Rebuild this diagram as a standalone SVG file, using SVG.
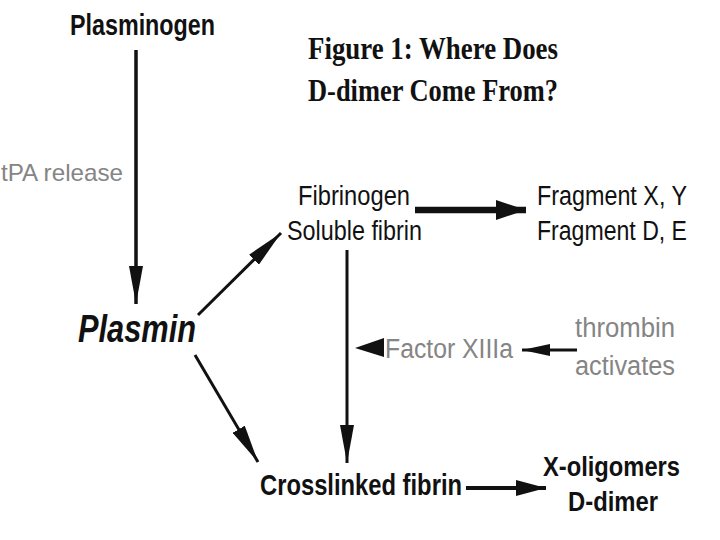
<svg xmlns="http://www.w3.org/2000/svg" width="720" height="540" viewBox="0 0 720 540">
  <style>
    .sans { font-family: "Liberation Sans", Arial, sans-serif; fill: #111; }
    .b { font-weight: bold; }
    .gray { fill: #858585; }
    .title { font-family: "Liberation Serif", "Times New Roman", serif; font-weight: bold; fill: #111; font-size: 32px; }
    .ln { stroke: #111; fill: none; }
  </style>
  <defs>
    <marker id="skinny" markerUnits="userSpaceOnUse" markerWidth="38" markerHeight="14" refX="38" refY="7" orient="auto">
      <path d="M0,0 L38,7 L0,14 Z" fill="#111"/>
    </marker>
    <marker id="fat" markerUnits="userSpaceOnUse" markerWidth="30" markerHeight="20" refX="30" refY="10" orient="auto">
      <path d="M0,0 L30,10 L0,20 Z" fill="#111"/>
    </marker>
    <marker id="mid" markerUnits="userSpaceOnUse" markerWidth="30" markerHeight="16" refX="30" refY="8" orient="auto">
      <path d="M0,0 L30,8 L0,16 Z" fill="#111"/>
    </marker>
    <marker id="small" markerUnits="userSpaceOnUse" markerWidth="28" markerHeight="12" refX="28" refY="6" orient="auto">
      <path d="M0,0 L28,6 L0,12 Z" fill="#111"/>
    </marker>
  </defs>

  <rect width="720" height="540" fill="#ffffff"/>

  <g id="title">
    <text class="title" x="308" y="59" textLength="250" lengthAdjust="spacingAndGlyphs">Figure 1: Where Does</text>
    <text class="title" x="308" y="101" textLength="250" lengthAdjust="spacingAndGlyphs">D-dimer Come From?</text>
  </g>

  <g id="connectors">
    <line class="ln" x1="136" y1="50" x2="136" y2="304" stroke-width="3.5" marker-end="url(#skinny)"/>
    <line class="ln" x1="198" y1="315" x2="281" y2="233" stroke-width="3" marker-end="url(#skinny)"/>
    <line class="ln" x1="195" y1="355" x2="258" y2="462" stroke-width="3" marker-end="url(#skinny)"/>
    <line class="ln" x1="347" y1="250" x2="347" y2="463" stroke-width="3" marker-end="url(#skinny)"/>
    <line class="ln" x1="415" y1="210" x2="526" y2="210" stroke-width="6.5" marker-end="url(#fat)"/>
    <line class="ln" x1="577" y1="350" x2="522" y2="350" stroke-width="3" marker-end="url(#small)"/>
    <line class="ln" x1="466" y1="488" x2="546" y2="488" stroke-width="4" marker-end="url(#mid)"/>
    <polygon points="355,348 384,338 384,357" fill="#111"/>
  </g>

  <g id="plasminogen">
    <text class="sans b" x="70" y="35" font-size="29" textLength="145" lengthAdjust="spacingAndGlyphs">Plasminogen</text>
  </g>
  <g id="tpa-release">
    <text class="sans gray" x="1" y="181" font-size="24" textLength="122" lengthAdjust="spacingAndGlyphs">tPA release</text>
  </g>
  <g id="plasmin">
    <text class="sans b" x="78" y="342" font-size="39" font-style="italic" textLength="118" lengthAdjust="spacingAndGlyphs">Plasmin</text>
  </g>
  <g id="fibrinogen">
    <text class="sans" x="298" y="205" font-size="27" textLength="112" lengthAdjust="spacingAndGlyphs">Fibrinogen</text>
    <text class="sans" x="287" y="240" font-size="27" textLength="135" lengthAdjust="spacingAndGlyphs">Soluble fibrin</text>
  </g>
  <g id="fragments">
    <text class="sans" x="537" y="205" font-size="27" textLength="150" lengthAdjust="spacingAndGlyphs">Fragment X, Y</text>
    <text class="sans" x="537" y="240" font-size="27" textLength="150" lengthAdjust="spacingAndGlyphs">Fragment D, E</text>
  </g>
  <g id="factor-xiiia">
    <text class="sans gray" x="385" y="358" font-size="27" textLength="128" lengthAdjust="spacingAndGlyphs">Factor XIIIa</text>
  </g>
  <g id="thrombin">
    <text class="sans gray" x="575" y="337" font-size="27" textLength="100" lengthAdjust="spacingAndGlyphs">thrombin</text>
    <text class="sans gray" x="575" y="375" font-size="27" textLength="100" lengthAdjust="spacingAndGlyphs">activates</text>
  </g>
  <g id="crosslinked-fibrin">
    <text class="sans b" x="260" y="495" font-size="30" textLength="202" lengthAdjust="spacingAndGlyphs">Crosslinked fibrin</text>
  </g>
  <g id="products">
    <text class="sans b" x="543" y="476" font-size="27" textLength="137" lengthAdjust="spacingAndGlyphs">X-oligomers</text>
    <text class="sans b" x="568" y="511" font-size="27" textLength="90" lengthAdjust="spacingAndGlyphs">D-dimer</text>
  </g>
</svg>
